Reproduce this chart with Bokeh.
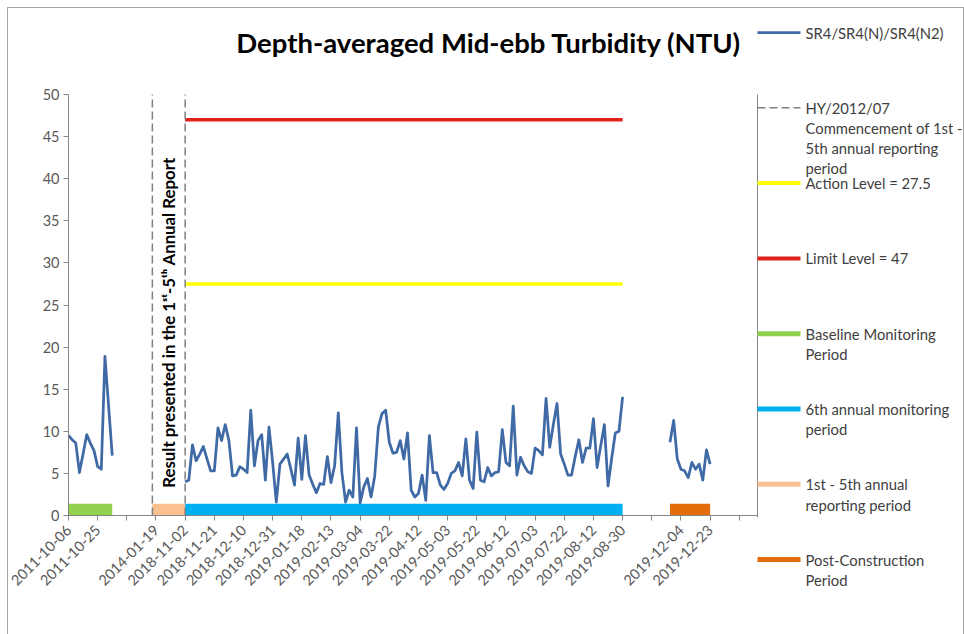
import math
from bokeh.plotting import figure
from bokeh.layouts import row
from bokeh.models import Range1d, FixedTicker
from bokeh.core.properties import value
from bokeh.embed import file_html
from bokeh.resources import INLINE

# ---------------- data ----------------
# category axis: one tick every 8 categories, label = category at the tick
tick_labels = ["2011-10-06", "2011-10-25", "", "2014-01-19", "2018-11-02",
               "2018-11-21", "2018-12-10", "2018-12-31", "2019-01-18",
               "2019-02-13", "2019-03-04", "2019-03-22", "2019-04-12",
               "2019-05-03", "2019-05-22", "2019-06-12", "2019-07-03",
               "2019-07-22", "2019-08-12", "2019-08-30", "", "2019-12-04",
               "2019-12-23", ""]
categories_per_tick = 8
n_categories = 190

# SR4/SR4(N)/SR4(N2) depth-averaged mid-ebb turbidity (NTU)
baseline_start = 0
baseline_vals = [9.5, 9.0, 8.6, 5.1, 7.3, 9.6, 8.6, 7.7, 5.8, 5.5, 18.9, 13.0, 7.1]

annual6_start = 32
annual6_vals = [4.0, 4.2, 8.4, 6.5, 7.3, 8.2, 6.7, 5.3, 5.3, 10.4,
                8.9, 10.8, 8.9, 4.7, 4.8, 5.8, 5.5, 5.1, 12.5, 5.9,
                8.9, 9.6, 4.2, 10.5, 6.3, 1.6, 6.1, 6.7, 7.3, 5.5,
                3.6, 9.2, 4.3, 9.5, 4.8, 3.7, 2.7, 3.8, 3.7, 7.0,
                3.9, 5.9, 12.2, 5.1, 1.6, 3.0, 2.2, 10.4, 1.5, 3.4,
                4.4, 2.2, 4.7, 10.5, 12.1, 12.5, 8.7, 7.4, 7.5, 8.9,
                6.7, 9.8, 3.0, 2.2, 2.6, 4.8, 1.8, 9.5, 5.1, 5.1,
                3.6, 3.1, 3.8, 5.0, 5.3, 6.3, 4.7, 9.1, 4.2, 3.2,
                9.9, 4.2, 4.0, 5.7, 4.7, 5.1, 5.2, 10.2, 6.3, 5.9,
                13.0, 4.8, 6.9, 5.9, 5.2, 5.0, 8.0, 7.7, 7.2, 13.9,
                8.1, 10.8, 13.3, 7.3, 6.1, 4.8, 4.8, 7.0, 9.0, 6.3,
                8.0, 8.0, 11.5, 5.7, 8.3, 10.8, 3.5, 6.8, 9.8, 10.0,
                14.1]

post_start = 165
post_vals = [8.7, 11.3, 6.7, 5.5, 5.3, 4.5, 6.3, 5.5, 6.1, 4.2, 7.8, 6.1]

hy_commencement = 23        # HY/2012/07 commencement (category position)
action_level = 27.5
limit_level = 47
y_max = 50

# periods: (first category, last category)
baseline_period = (0, 12)
report_1_5_period = (23, 32)
annual6_period = (32, 152)
post_period = (165, 176)

legend_labels = [
    ["SR4/SR4(N)/SR4(N2)"],
    ["HY/2012/07", "Commencement of 1st -", "5th annual reporting", "period"],
    ["Action Level = 27.5"],
    ["Limit Level = 47"],
    ["Baseline Monitoring", "Period"],
    ["6th annual monitoring", "period"],
    ["1st - 5th annual", "reporting period"],
    ["Post-Construction", "Period"],
]

# ---------------- styling / layout ----------------
FONT = "Lato"
AXIS_GREY = "#868686"
TEXT_GREY = "#595959"
LINE_BLUE = "#3f6aa6"
RED = "#e0201c"
YELLOW = "#ffff00"
GREEN = "#92d050"
CYAN = "#00b0f0"
PEACH = "#fac090"
ORANGE = "#e46c0a"
DASH_GREY = "#7f7f7f"
BORDER = "#a6a6a6"

W, H = 964, 634
PL, PT, PR, PB = 68, 94, 757, 515          # plot area in pixels
x_last = n_categories - 1
kx = x_last / (PR - PL)                     # data units per pixel
ky = y_max / (PB - PT)


def px_x(px):
    return (px - PL) * kx


def px_y(py):
    return (PB - py) * ky


p = figure(width=W, height=H, output_backend="svg", toolbar_location=None,
           x_range=Range1d(px_x(0), px_x(W)), y_range=Range1d(px_y(H), px_y(0)),
           min_border_left=0, min_border_top=0, min_border_right=0,
           min_border_bottom=0)
p.title.visible = False
p.xgrid.visible = False
p.ygrid.visible = False
p.outline_line_color = None
p.background_fill_color = None
p.border_fill_color = None

# x axis (category axis at y = 0)
tick_pos = [i * categories_per_tick for i in range(len(tick_labels))]
p.xaxis.fixed_location = 0
p.xaxis.bounds = (0, x_last)
p.xaxis.ticker = FixedTicker(ticks=tick_pos)
p.xaxis.major_label_overrides = {t: l for t, l in zip(tick_pos, tick_labels)}
p.xaxis.major_label_orientation = math.pi / 4
p.xaxis.major_label_text_font = FONT
p.xaxis.major_label_text_font_size = "14.5px"
p.xaxis.major_label_text_color = TEXT_GREY
p.xaxis.axis_line_color = AXIS_GREY
p.xaxis.major_tick_line_color = AXIS_GREY
p.xaxis.major_tick_out = 5
p.xaxis.major_tick_in = 0
p.xaxis.minor_tick_line_color = None
p.xaxis.major_label_standoff = 7

# y axis (at category 0)
p.yaxis.fixed_location = 0
p.yaxis.bounds = (0, y_max)
p.yaxis.ticker = FixedTicker(ticks=list(range(0, y_max + 1, 5)))
p.yaxis.major_label_text_font = FONT
p.yaxis.major_label_text_font_size = "14.5px"
p.yaxis.major_label_text_color = TEXT_GREY
p.yaxis.axis_line_color = AXIS_GREY
p.yaxis.major_tick_line_color = AXIS_GREY
p.yaxis.major_tick_out = 5
p.yaxis.major_tick_in = 0
p.yaxis.minor_tick_line_color = None
p.yaxis.major_label_standoff = 4

# right edge of the plot area
p.segment(x0=[x_last], y0=[0 - 2 * ky], x1=[x_last], y1=[y_max],
          line_color=AXIS_GREY, line_width=1)

# period bars
bar_top = 1.4
for (a, b), col in [(baseline_period, GREEN), (report_1_5_period, PEACH),
                    (annual6_period, CYAN), (post_period, ORANGE)]:
    p.quad(left=[a], right=[b], bottom=[0], top=[bar_top], fill_color=col,
           line_color=None)

# action / limit levels
p.line(x=list(annual6_period), y=[action_level, action_level],
       line_color=YELLOW, line_width=3.5)
p.line(x=list(annual6_period), y=[limit_level, limit_level],
       line_color=RED, line_width=3.5)

# vertical dashed lines
for loc in (hy_commencement, annual6_period[0]):
    p.line(x=[loc, loc], y=[0, y_max], line_color=DASH_GREY, line_width=1.5,
           line_dash="8 4")

# turbidity series
for start, vals in [(baseline_start, baseline_vals),
                    (annual6_start, annual6_vals),
                    (post_start, post_vals)]:
    p.line(x=[start + i for i in range(len(vals))], y=vals,
           line_color=LINE_BLUE, line_width=2.75, line_join="round")

# rotated note
p.text(x=[(report_1_5_period[0] + report_1_5_period[1]) / 2], y=[px_y(322)],
       text=["Result presented in the 1ˢᵗ-5ᵗʰ Annual Report"],
       angle=math.pi / 2, text_align="center", text_baseline="middle",
       text_font=value(FONT), text_font_style="bold",
       text_font_size="16.8px", text_color="#000000")

# title
p.text(x=[px_x(488.5)], y=[px_y(42)],
       text=["Depth-averaged Mid-ebb Turbidity (NTU)"],
       text_align="center", text_baseline="middle",
       text_font=value(FONT), text_font_style="bold",
       text_font_size="27.5px", text_color="#000000")

# legend
legend_styles = [(LINE_BLUE, 2.75, "solid"), (DASH_GREY, 1.5, "8 4"),
                 (YELLOW, 4, "solid"), (RED, 4, "solid"), (GREEN, 5, "solid"),
                 (CYAN, 5, "solid"), (PEACH, 5, "solid"), (ORANGE, 5, "solid")]
sx0, sx1, tx = PR, PR + 43, PR + 48
ly0, lstep, lline = 32, 75.3, 20.2
for k, (lines, (col, lw, dash)) in enumerate(zip(legend_labels, legend_styles)):
    y = ly0 + k * lstep
    p.segment(x0=[px_x(sx0)], y0=[px_y(y)], x1=[px_x(sx1)], y1=[px_y(y)],
              line_color=col, line_width=lw, line_dash=dash)
    p.text(x=[px_x(tx)] * len(lines),
           y=[px_y(y + j * lline) for j in range(len(lines))],
           text=lines, text_font=value(FONT), text_font_size="14.8px",
           text_baseline="middle", text_align="left", text_color="#404040")

grad = "linear-gradient(%s,%s)" % (BORDER, BORDER)
layout = row(p, styles={
    "background": (f"{grad} 7px 7px / 1px 100% no-repeat, "
                   f"{grad} 7px 7px / 957px 1px no-repeat, "
                   f"{grad} 963px 7px / 1px 100% no-repeat, white")})

open("out.html", "w").write(file_html(layout, INLINE))
